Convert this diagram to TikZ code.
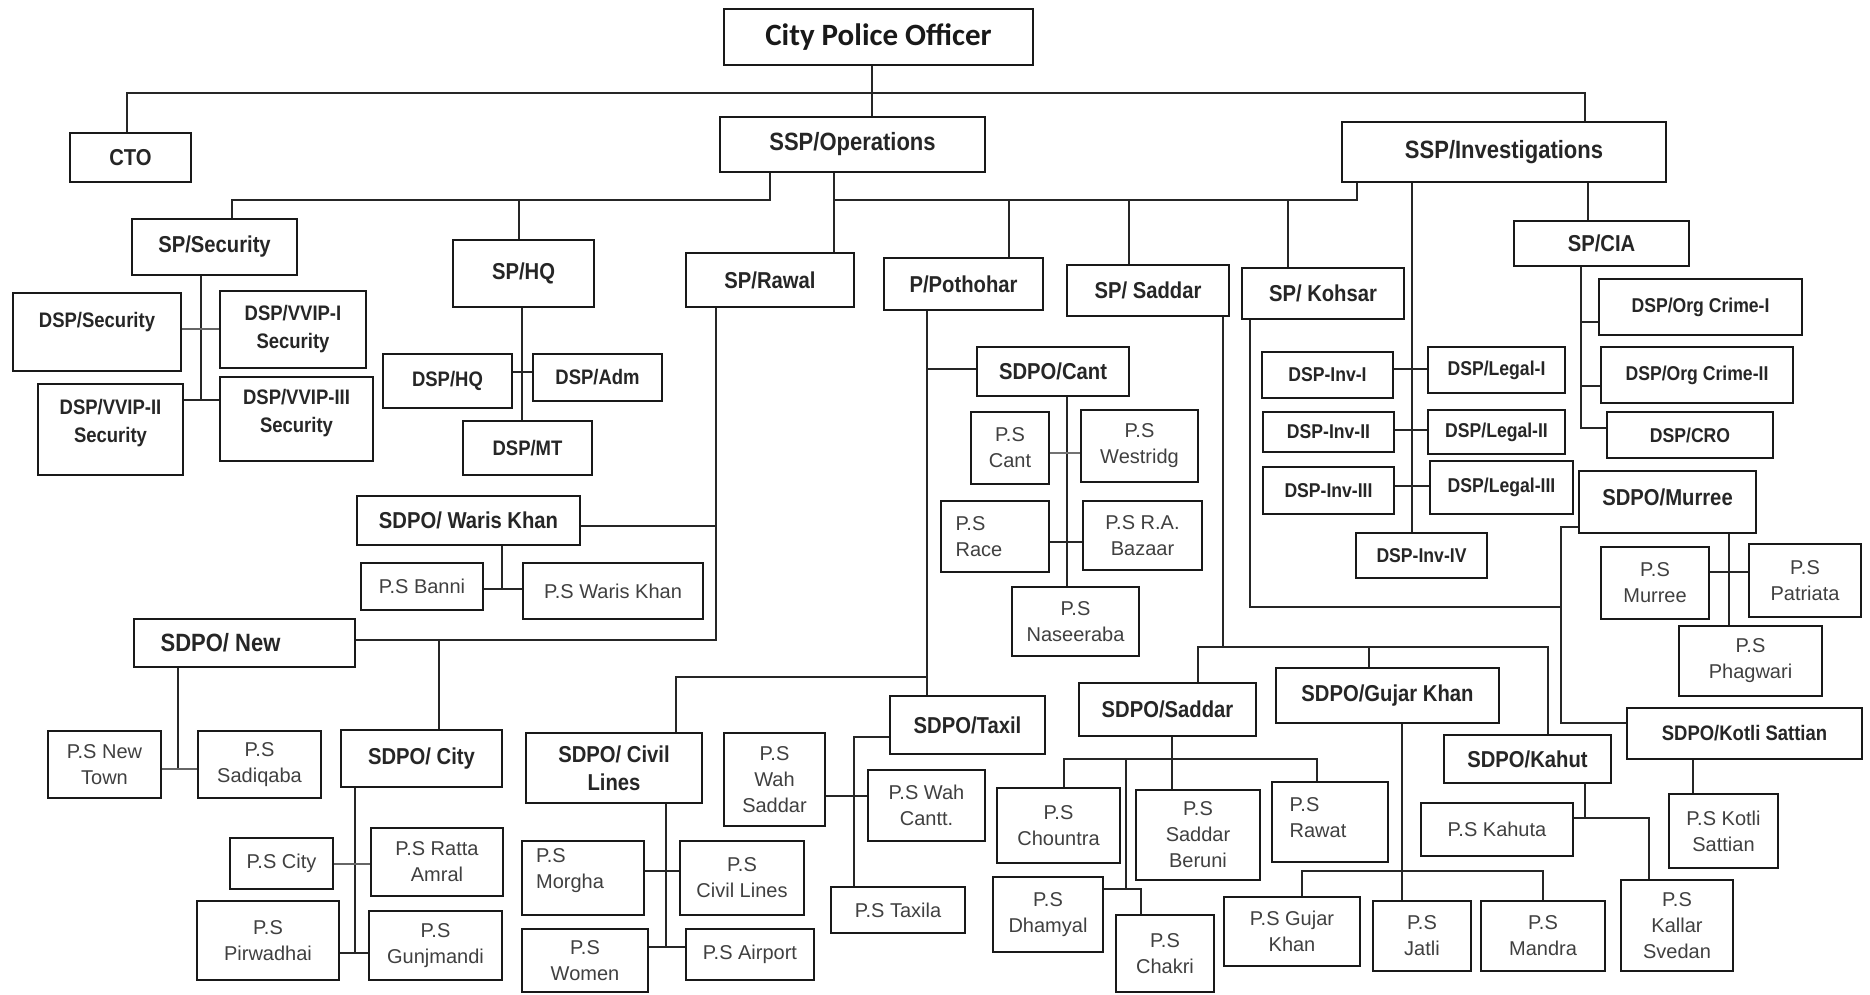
\documentclass[tikz,border=0pt]{standalone}
\usepackage{fontspec}
\setmainfont{Liberation Sans}
\newfontfamily\nar{Liberation Sans}[FakeStretch=0.88]
\newfontfamily\calfont{Carlito}
\usetikzlibrary{backgrounds}
\tikzset{
  box/.style={draw=black!90, line width=2pt, rectangle, inner sep=0pt},
  conn/.style={line width=1.8pt, draw=black!85},
  tCPO/.style={font=\calfont\bfseries\fontsize{31}{34}\selectfont, text=black!90},
  tA/.style={font=\nar\bfseries\fontsize{25}{29}\selectfont, align=center, text=black!85},
  tB/.style={font=\nar\bfseries\fontsize{23}{28}\selectfont, align=center, text=black!85},
  tC/.style={font=\nar\bfseries\fontsize{21}{28}\selectfont, align=center, text=black!85},
  tD/.style={font=\nar\bfseries\fontsize{20}{24}\selectfont, align=center, text=black!85},
  tP/.style={font=\fontsize{20}{26}\selectfont, align=center, text=black!75},
}
% \bx[text options]{name}{x1}{y1}{x2}{y2}{style}{text}
\newcommand{\bx}[8][]{%
  \node[box, minimum width={#5-#3}, minimum height={#6-#4}] (#2) at ({(#3+#5)/2},{(#4+#6)/2}) {};
  \node[#7,#1] (#2-t) at (#2.center) {#8};
}
\begin{document}
\begin{tikzpicture}[x=1pt,y=-1pt]
\useasboundingbox (0,0) rectangle (1870,994);
% ---------- boxes ----------
\bx{cpo}{724}{9}{1033}{65}{tCPO}{City Police Officer}
\bx{cto}{70}{133}{191}{182}{tB}{CTO}
\bx{ssop}{720}{117}{985}{172}{tA}{SSP/Operations}
\bx{ssinv}{1342}{122}{1666}{182}{tA}{SSP/Investigations}
\bx{spsec}{132}{219}{297}{275}{tB}{SP/Security}
\bx{sphq}{453}{240}{594}{307}{tB}{SP/HQ}
\bx{sprawal}{686}{253}{854}{307}{tB}{SP/Rawal}
\bx{pp}{884}{258}{1043}{310}{tB}{P/Pothohar}
\bx{spsad}{1067}{265}{1229}{316}{tB}{SP/ Saddar}
\bx{spkoh}{1242}{268}{1404}{319}{tB}{SP/ Kohsar}
\bx{spcia}{1514}{221}{1689}{266}{tB}{SP/CIA}
\bx{oc1}{1599}{279}{1802}{335}{tD}{DSP/Org Crime-I}
\bx{oc2}{1601}{347}{1793}{403}{tD}{DSP/Org Crime-II}
\bx{cro}{1607}{412}{1773}{458}{tD}{DSP/CRO}
\bx[yshift=10]{dspsec}{13}{293}{181}{371}{tC}{DSP/Security}
\bx{vvip1}{220}{291}{366}{368}{tC}{DSP/VVIP-I\\Security}
\bx[yshift=6]{vvip2}{38}{384}{183}{475}{tC}{DSP/VVIP-II\\Security}
\bx[yshift=6]{vvip3}{220}{377}{373}{461}{tC}{DSP/VVIP-III\\Security}
\bx{dsphq}{383}{354}{512}{408}{tC}{DSP/HQ}
\bx{dspadm}{533}{354}{662}{401}{tC}{DSP/Adm}
\bx{dspmt}{463}{421}{592}{475}{tC}{DSP/MT}
\bx{sdpowk}{357}{496}{580}{545}{tB}{SDPO/ Waris Khan}
\bx{banni}{361}{563}{483}{610}{tP}{P.S Banni}
\bx{pswk}{523}{563}{703}{619}{tP}{P.S Waris Khan}
\bx[xshift=-24]{sdponew}{134}{619}{355}{667}{tA}{SDPO/ New}
\bx{newtown}{48}{731}{161}{798}{tP}{P.S New\\Town}
\bx{sadiqaba}{198}{731}{321}{798}{tP}{P.S\\Sadiqaba}
\bx{sdpocity}{341}{730}{502}{787}{tB}{SDPO/ City}
\bx{pscity}{230}{838}{333}{889}{tP}{P.S City}
\bx{ratta}{371}{828}{503}{896}{tP}{P.S Ratta\\Amral}
\bx{pirwadhai}{197}{901}{339}{980}{tP}{P.S\\Pirwadhai}
\bx{gunj}{369}{911}{502}{980}{tP}{P.S\\Gunjmandi}
\bx{sdpocant}{977}{347}{1129}{396}{tB}{SDPO/Cant}
\bx{pscant}{971}{412}{1049}{484}{tP}{P.S\\Cant}
\bx{westridg}{1081}{410}{1198}{482}{tP}{P.S\\Westridg}
\bx[xshift=-16,align=left]{race}{941}{501}{1049}{572}{tP}{P.S\\Race}
\bx{rabazaar}{1083}{501}{1202}{570}{tP}{P.S R.A.\\Bazaar}
\bx{naseeraba}{1012}{587}{1139}{656}{tP}{P.S\\Naseeraba}
\bx{sdpocl}{526}{733}{702}{803}{tB}{SDPO/ Civil\\Lines}
\bx[xshift=-13,yshift=7,align=left]{morgha}{522}{841}{644}{915}{tP}{P.S\\Morgha}
\bx{civillines}{680}{841}{804}{915}{tP}{P.S\\Civil Lines}
\bx{women}{522}{929}{648}{992}{tP}{P.S\\Women}
\bx{airport}{686}{929}{814}{980}{tP}{P.S Airport}
\bx{sdpotaxil}{890}{696}{1045}{754}{tB}{SDPO/Taxil}
\bx{wahsaddar}{724}{733}{825}{826}{tP}{P.S\\Wah\\Saddar}
\bx{wahcantt}{868}{770}{985}{841}{tP}{P.S Wah\\Cantt.}
\bx{taxila}{831}{887}{965}{933}{tP}{P.S Taxila}
\bx{sdposaddar}{1079}{683}{1256}{736}{tB}{SDPO/Saddar}
\bx{sdpogk}{1276}{668}{1499}{723}{tB}{SDPO/Gujar Khan}
\bx{sdpokahut}{1444}{735}{1611}{783}{tB}{SDPO/Kahut}
\bx{chountra}{997}{788}{1120}{863}{tP}{P.S\\Chountra}
\bx{sberuni}{1136}{790}{1260}{880}{tP}{P.S\\Saddar\\Beruni}
\bx[xshift=-12,yshift=4,align=left]{rawat}{1272}{782}{1388}{862}{tP}{P.S\\Rawat}
\bx{dhamyal}{993}{877}{1103}{952}{tP}{P.S\\Dhamyal}
\bx{chakri}{1116}{915}{1214}{992}{tP}{P.S\\Chakri}
\bx{psgk}{1224}{897}{1360}{966}{tP}{P.S Gujar\\Khan}
\bx{jatli}{1373}{901}{1471}{971}{tP}{P.S\\Jatli}
\bx{mandra}{1481}{901}{1605}{971}{tP}{P.S\\Mandra}
\bx{kahuta}{1421}{803}{1573}{856}{tP}{P.S Kahuta}
\bx{kallar}{1621}{880}{1733}{971}{tP}{P.S\\Kallar\\Svedan}
\bx{inv1}{1262}{352}{1393}{398}{tD}{DSP-Inv-I}
\bx{inv2}{1263}{412}{1394}{452}{tD}{DSP-Inv-II}
\bx{inv3}{1263}{467}{1394}{514}{tD}{DSP-Inv-III}
\bx{inv4}{1356}{533}{1487}{578}{tD}{DSP-Inv-IV}
\bx{leg1}{1428}{347}{1565}{393}{tD}{DSP/Legal-I}
\bx{leg2}{1428}{410}{1565}{454}{tD}{DSP/Legal-II}
\bx{leg3}{1430}{461}{1573}{514}{tD}{DSP/Legal-III}
\bx[yshift=5]{sdpomurree}{1579}{471}{1756}{533}{tB}{SDPO/Murree}
\bx{psmurree}{1601}{547}{1709}{619}{tP}{P.S\\Murree}
\bx{patriata}{1749}{544}{1861}{617}{tP}{P.S\\Patriata}
\bx{phagwari}{1679}{626}{1822}{696}{tP}{P.S\\Phagwari}
\bx{sdpokotli}{1627}{708}{1862}{759}{tC}{SDPO/Kotli Sattian}
\bx{pskotli}{1669}{794}{1778}{868}{tP}{P.S Kotli\\Sattian}
% ---------- connectors ----------
\begin{scope}[on background layer]
\fill[white] (0,0) rectangle (1870,994);
\begin{scope}[conn]
\draw (872,0 |- cpo.south) -- (872,0 |- ssop.north);
\draw (127,0 |- cto.north) |- (1585,93) -- (1585,0 |- ssinv.north);
\draw (770,0 |- ssop.south) |- (232,200) -- (232,0 |- spsec.north);
\draw (519,200) -- (519,0 |- sphq.north);
\draw (834,0 |- ssop.south) -- (834,0 |- sprawal.north);
\draw (834,200) -| (1357,0 |- ssinv.south);
\draw (1009,200) -- (1009,0 |- pp.north);
\draw (1129,200) -- (1129,0 |- spsad.north);
\draw (1288,200) -- (1288,0 |- spkoh.north);
% investigations
\draw (1588,0 |- ssinv.south) -- (1588,0 |- spcia.north);
\draw (1581,0 |- spcia.south) |- (cro.west |- 0,428);
\draw (1581,322) -- (oc1.west |- 0,322);
\draw (1581,386) -- (oc2.west |- 0,386);
\draw (1412,0 |- ssinv.south) -- (1412,0 |- inv4.north);
\draw (inv1.east |- 0,369) -- (leg1.west |- 0,369);
\draw (inv2.east |- 0,430) -- (leg2.west |- 0,430);
\draw (inv3.east |- 0,486) -- (leg3.west |- 0,486);
% security
\draw (201,0 |- spsec.south) -- (201,400);
\draw[draw=black!60] (dspsec.east |- 0,329) -- (vvip1.west |- 0,329);
\draw (vvip2.east |- 0,400) -- (vvip3.west |- 0,400);
% HQ
\draw (522,0 |- sphq.south) -- (522,0 |- dspmt.north);
\draw (dsphq.east |- 0,372) -- (dspadm.west |- 0,372);
% Rawal
\draw (716,0 |- sprawal.south) |- (sdponew.east |- 0,640);
\draw (sdpowk.east |- 0,526) -- (716,526);
\draw (502,0 |- sdpowk.south) -- (502,589);
\draw (banni.east |- 0,589) -- (pswk.west |- 0,589);
\draw (178,0 |- sdponew.south) -- (178,769);
\draw[draw=black!60] (newtown.east |- 0,769) -- (sadiqaba.west |- 0,769);
\draw (439,640) -- (439,0 |- sdpocity.north);
\draw (355,0 |- sdpocity.south) -- (355,953);
\draw[draw=black!60] (pscity.east |- 0,864) -- (ratta.west |- 0,864);
\draw (pirwadhai.east |- 0,953) -- (gunj.west |- 0,953);
% Pothohar
\draw (927,0 |- pp.south) -- (927,0 |- sdpotaxil.north);
\draw (927,369) -- (sdpocant.west |- 0,369);
\draw (927,677) -| (676,0 |- sdpocl.north);
\draw (1067,0 |- sdpocant.south) -- (1067,0 |- naseeraba.north);
\draw[draw=black!55] (pscant.east |- 0,453) -- (westridg.west |- 0,453);
\draw (race.east |- 0,542) -- (rabazaar.west |- 0,542);
\draw (666,0 |- sdpocl.south) -- (666,947);
\draw (morgha.east |- 0,871) -- (civillines.west |- 0,871);
\draw (women.east |- 0,947) -- (airport.west |- 0,947);
\draw (sdpotaxil.west |- 0,737) -| (854,0 |- taxila.north);
\draw (wahsaddar.east |- 0,796) -- (wahcantt.west |- 0,796);
% Saddar
\draw (1223,0 |- spsad.south) -- (1223,647);
\draw (1198,0 |- sdposaddar.north) |- (1548,647) -- (1548,0 |- sdpokahut.north);
\draw (1369,647) -- (1369,0 |- sdpogk.north);
\draw (1172,0 |- sdposaddar.south) -- (1172,0 |- sberuni.north);
\draw (1064,0 |- chountra.north) |- (1317,759) -- (1317,0 |- rawat.north);
\draw (1126,759) -- (1126,889);
\draw (dhamyal.east |- 0,889) -| (1141,0 |- chakri.north);
\draw (1402,0 |- sdpogk.south) -- (1402,0 |- jatli.north);
\draw (1302,0 |- psgk.north) |- (1543,871) -- (1543,0 |- mandra.north);
\draw (1585,0 |- sdpokahut.south) -- (1585,818);
\draw (kahuta.east |- 0,818) -| (1649,0 |- kallar.north);
% Kohsar
\draw (1250,0 |- spkoh.south) |- (1561,607);
\draw (sdpomurree.west |- 0,527) -| (1561,723) -- (sdpokotli.west |- 0,723);
\draw (1729,0 |- sdpomurree.south) -- (1729,0 |- phagwari.north);
\draw (psmurree.east |- 0,572) -- (patriata.west |- 0,572);
\draw (1693,0 |- sdpokotli.south) -- (1693,0 |- pskotli.north);
\end{scope}
\end{scope}
\end{tikzpicture}
\end{document}
